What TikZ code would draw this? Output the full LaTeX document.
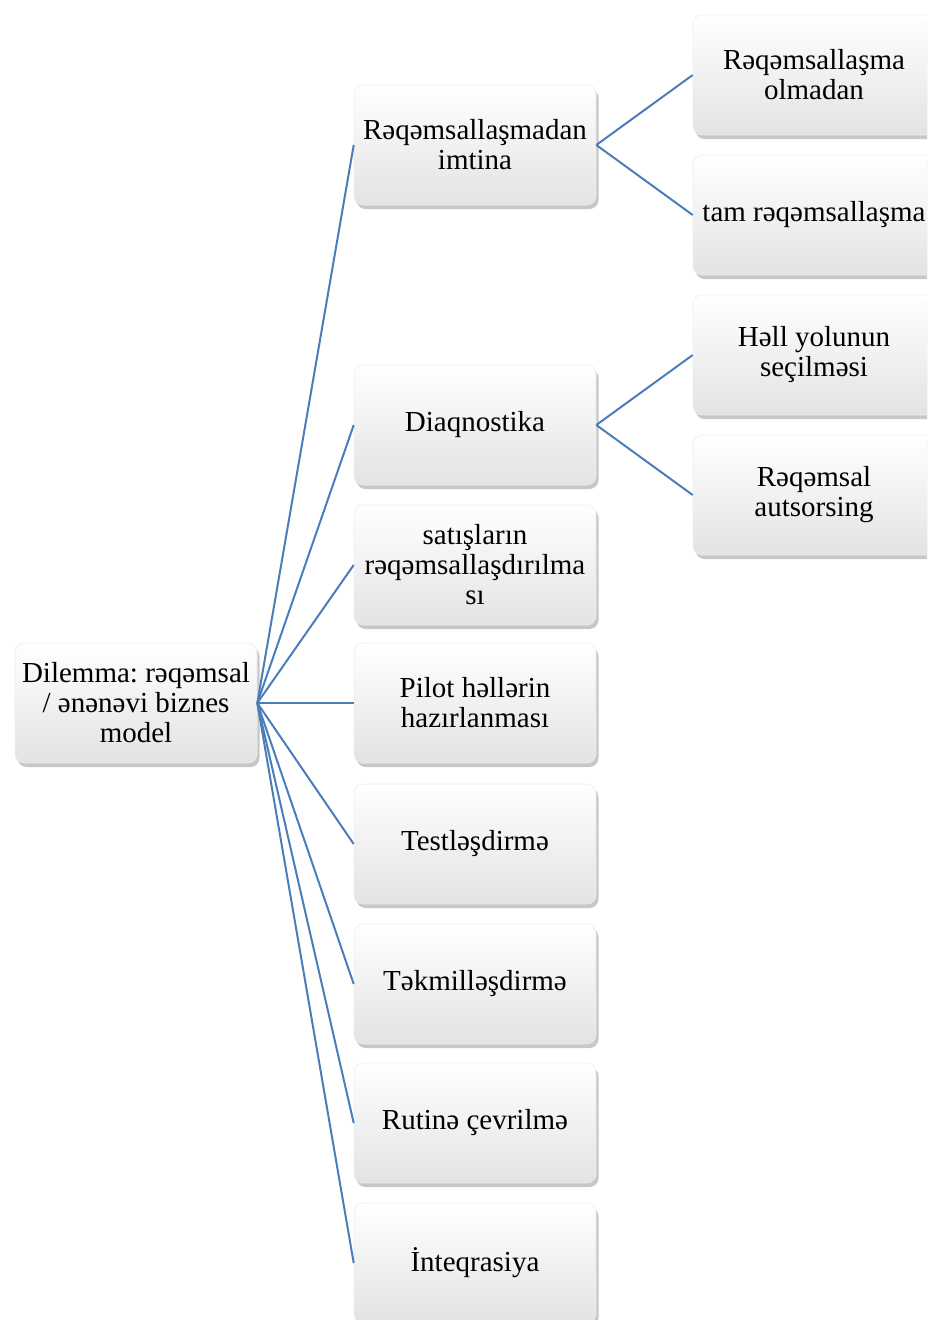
\documentclass[tikz,border=0pt]{standalone}
\usepackage{fontspec}
\setmainfont{Liberation Serif}
\usetikzlibrary{shadows}
\begin{document}
\begin{tikzpicture}[x=1pt,y=-1pt,
  box/.style={rectangle, rounded corners=9pt, minimum width=242pt, minimum height=120pt,
    text width=240pt, align=flush center, inner sep=0pt,
    top color=white, bottom color=black!11, draw=black!7, line width=0.6pt,
    drop shadow={shadow xshift=2.5pt, shadow yshift=-4pt, fill=black!55, opacity=0.4},
    font=\fontsize{29}{30}\selectfont\frenchspacing},
  conn/.style={draw={rgb,255:red,74;green,126;blue,187}, line width=2pt}]
\useasboundingbox (0,0) rectangle (927,1320);
\clip (0,0) rectangle (927,1320);
\node[box] (root) at (136,703) {Dilemma: rəqəmsal\\/ ənənəvi biznes\\model};
\node[box] (a) at (475,145) {Rəqəmsallaşmadan\\imtina};
\node[box] (b) at (475,425) {Diaqnostika};
\node[box] (c) at (475,565) {satışların\\rəqəmsallaşdırılma\\sı};
\node[box] (d) at (475,703) {Pilot həllərin\\hazırlanması};
\node[box] (e) at (475,844) {Testləşdirmə};
\node[box] (f) at (475,984) {Təkmilləşdirmə};
\node[box] (g) at (475,1123) {Rutinə çevrilmə};
\node[box] (h) at (475,1263) {İnteqrasiya};
\node[box] (a1) at (814,75) {Rəqəmsallaşma\\olmadan};
\node[box] (a2) at (814,215) {tam rəqəmsallaşma};
\node[box] (b1) at (814,355) {Həll yolunun\\seçilməsi};
\node[box] (b2) at (814,495) {Rəqəmsal\\autsorsing};
\foreach \t in {a,b,c,d,e,f,g,h} \draw[conn] (root.east) -- (\t.west);
\draw[conn] (a.east) -- (a1.west);
\draw[conn] (a.east) -- (a2.west);
\draw[conn] (b.east) -- (b1.west);
\draw[conn] (b.east) -- (b2.west);
\end{tikzpicture}
\end{document}
